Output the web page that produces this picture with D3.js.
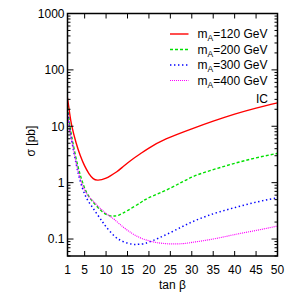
<!DOCTYPE html>
<html>
<head>
<meta charset="utf-8">
<script src="https://cdn.jsdelivr.net/npm/d3@7"></script>
<style>
  body { margin: 0; background: #fff; }
  text { font-family: "Liberation Sans", Arial, sans-serif; fill: #000; }
</style>
</head>
<body>
<svg id="chart" width="300" height="294"></svg>
<script>
// tan(beta) sample points and cross sections (pb)
const tanb120 = [1, 1.5, 2, 3, 4, 5, 6, 7, 8, 9, 10, 11, 12.5, 14, 16, 18, 20, 24, 30, 35, 40, 45, 50];
const sigma120 = [32, 17, 10.2, 5.1, 3.0, 1.98, 1.45, 1.18, 1.11, 1.13, 1.2, 1.32, 1.56, 1.93, 2.55, 3.25, 4.1, 5.95, 9.0, 12.3, 16.4, 21, 26];

const tanb200 = [1, 1.5, 2, 3, 4, 5, 6, 7, 8, 9, 10, 11, 12, 13, 15, 18, 20, 25, 30, 35, 40, 45, 50];
const sigma200 = [22, 11, 6.5, 2.7, 1.35, 0.8, 0.57, 0.45, 0.37, 0.31, 0.275, 0.258, 0.256, 0.265, 0.32, 0.44, 0.54, 0.8, 1.25, 1.7, 2.2, 2.75, 3.3];

const tanb300 = [1, 1.5, 2, 3, 4, 5, 6, 7, 8, 9, 10, 12, 14, 16, 17, 18, 20, 25, 30, 35, 40, 45, 50];
const sigma300 = [20, 9.5, 5.5, 2.2, 1.05, 0.63, 0.45, 0.35, 0.27, 0.21, 0.165, 0.112, 0.09, 0.081, 0.08, 0.081, 0.088, 0.13, 0.2, 0.28, 0.36, 0.45, 0.54];

const tanb400 = [1, 1.5, 2, 3, 4, 5, 6, 7, 8, 9, 10, 11, 12, 14, 16, 18, 20, 22, 25, 28, 30, 35, 40, 45, 50];
const sigma400 = [18, 9, 5.5, 2.3, 1.15, 0.74, 0.56, 0.47, 0.39, 0.33, 0.285, 0.25, 0.22, 0.163, 0.127, 0.105, 0.093, 0.086, 0.082, 0.083, 0.087, 0.1, 0.12, 0.142, 0.17];

const seriesNames = ['120', '200', '300', '400'];
const xTicks = [1, 5, 10, 15, 20, 25, 30, 35, 40, 45, 50];
const yTicks = [0.1, 1, 10, 100, 1000];

const margin = { top: 13.5, right: 22.5, bottom: 38, left: 67.5 };
const width = 300 - margin.left - margin.right;
const height = 294 - margin.top - margin.bottom;

const svg = d3.select('#chart');
const g = svg.append('g')
  .attr('transform', `translate(${margin.left},${margin.top})`);

const x = d3.scaleLinear().domain([1, 50]).range([0, width]);
const y = d3.scaleLog().domain([0.05, 1000]).range([height, 0]);

const series = [
  { name: seriesNames[0], xs: tanb120, ys: sigma120, color: '#ff0000', dash: null, w: 1.4 },
  { name: seriesNames[1], xs: tanb200, ys: sigma200, color: '#00e000', dash: '3,2', w: 1.4 },
  { name: seriesNames[2], xs: tanb300, ys: sigma300, color: '#0000ff', dash: '1.4,2.6', w: 1.5 },
  { name: seriesNames[3], xs: tanb400, ys: sigma400, color: '#ff00ff', dash: '1,1', w: 1.2 }
];

const line = d3.line()
  .x(d => x(d[0]))
  .y(d => y(d[1]))
  .curve(d3.curveNatural);

g.append('defs').append('clipPath').attr('id', 'clip')
  .append('rect').attr('width', width).attr('height', height);

const curves = g.append('g').attr('clip-path', 'url(#clip)');
series.forEach(s => {
  curves.append('path')
    .datum(d3.zip(s.xs, s.ys))
    .attr('fill', 'none')
    .attr('stroke', s.color)
    .attr('stroke-width', s.w)
    .attr('stroke-dasharray', s.dash)
    .attr('d', line);
});

// minor ticks for the log axis
const minor = [];
[0.01, 0.1, 1, 10, 100].forEach(dec => {
  for (let k = 2; k <= 9; k++) {
    const v = dec * k;
    if (v >= 0.05 && v < 1000) minor.push(v);
  }
});

const axes = g.append('g').attr('stroke', '#000').attr('stroke-width', 1);
// left + right major/minor ticks
yTicks.forEach(v => {
  axes.append('line').attr('x1', 0).attr('x2', 6).attr('y1', y(v)).attr('y2', y(v));
  axes.append('line').attr('x1', width).attr('x2', width - 6).attr('y1', y(v)).attr('y2', y(v));
});
minor.forEach(v => {
  axes.append('line').attr('x1', 0).attr('x2', 3).attr('y1', y(v)).attr('y2', y(v));
  axes.append('line').attr('x1', width).attr('x2', width - 3).attr('y1', y(v)).attr('y2', y(v));
});
// bottom + top ticks
xTicks.forEach(v => {
  axes.append('line').attr('x1', x(v)).attr('x2', x(v)).attr('y1', height).attr('y2', height - 5);
  axes.append('line').attr('x1', x(v)).attr('x2', x(v)).attr('y1', 0).attr('y2', 5);
});

g.append('rect')
  .attr('width', width).attr('height', height)
  .attr('fill', 'none').attr('stroke', '#000').attr('stroke-width', 1.5);

// tick labels
g.selectAll('.ylab').data(yTicks).enter().append('text')
  .attr('x', -3).attr('y', d => y(d) + 4.3)
  .attr('text-anchor', 'end').attr('font-size', 12)
  .text(d => d3.format('~g')(d));

g.selectAll('.xlab').data(xTicks).enter().append('text')
  .attr('x', d => x(d)).attr('y', height + 17.5)
  .attr('text-anchor', 'middle').attr('font-size', 12)
  .text(d => d);

// axis titles
svg.append('text')
  .attr('transform', `translate(35,141) rotate(-90)`)
  .attr('text-anchor', 'middle').attr('font-size', 12)
  .text('σ [pb]');

svg.append('text')
  .attr('x', margin.left + width / 2).attr('y', 289)
  .attr('text-anchor', 'middle').attr('font-size', 12)
  .text('tan β');

// legend
const legend = svg.append('g');
series.forEach((s, i) => {
  const by = 38 + i * 15.5;
  legend.append('line')
    .attr('x1', 170).attr('x2', 188.5).attr('y1', by - 4).attr('y2', by - 4)
    .attr('stroke', s.color).attr('stroke-width', s.w)
    .attr('stroke-dasharray', s.dash);
  const t = legend.append('text')
    .attr('x', 267.5).attr('y', by)
    .attr('text-anchor', 'end').attr('font-size', 12);
  t.append('tspan').text('m');
  t.append('tspan').attr('font-size', 8.5).attr('dy', 3).text('A');
  t.append('tspan').attr('dy', -3).text(`=${s.name} GeV`);
});
legend.append('text')
  .attr('x', 268).attr('y', 102.5)
  .attr('text-anchor', 'end').attr('font-size', 12)
  .text('IC');
</script>
</body>
</html>
